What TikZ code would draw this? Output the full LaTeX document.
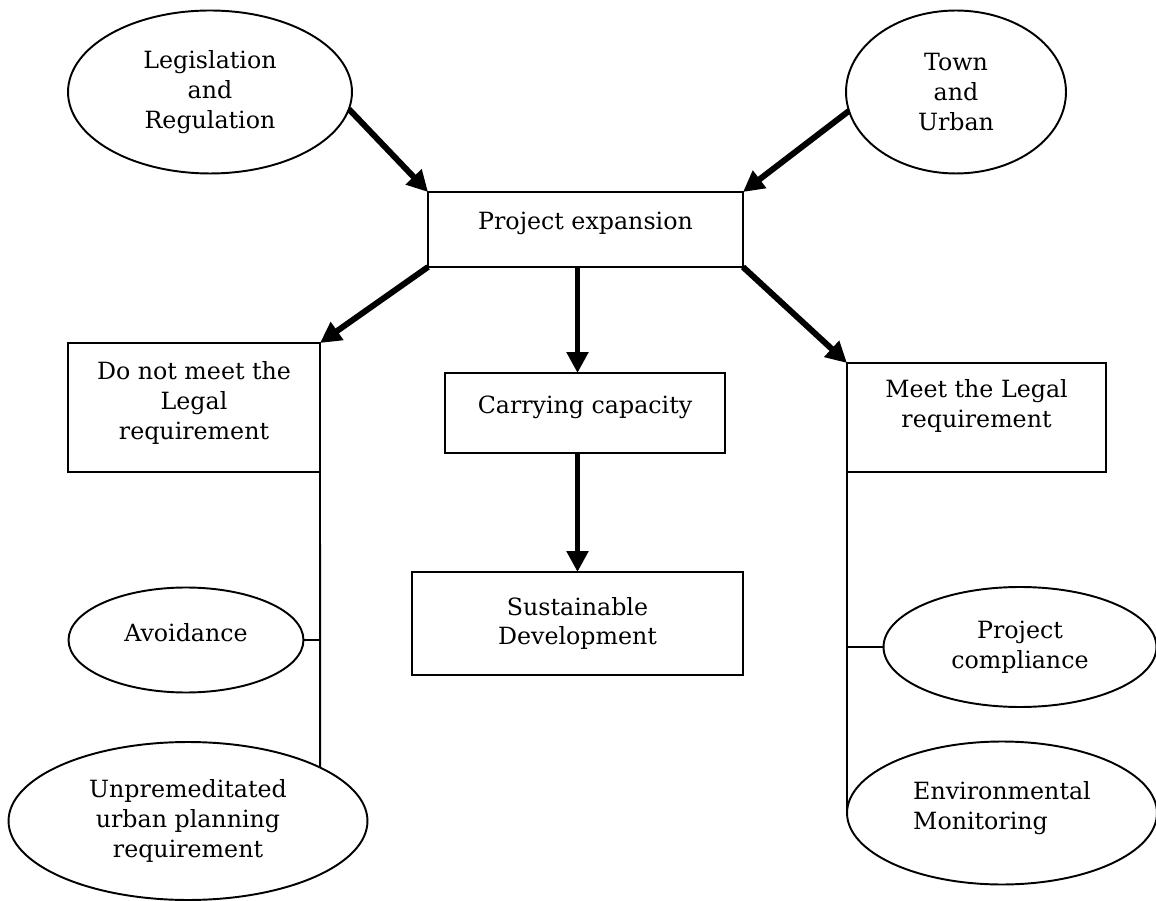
\documentclass[tikz,border=0pt]{standalone}
\usepackage{fontspec}
\setmainfont{DejaVu Serif}
\usepackage{tikz}
\usetikzlibrary{shapes.geometric,arrows.meta,calc,positioning}
\newcommand{\arrowwidth}{3.4pt}
\newcommand{\framewidth}{1.1pt}
\newcommand{\labelfont}{\fontsize{13.5}{17}\selectfont}

\begin{document}
\begin{tikzpicture}[x=0.02cm,y=-0.02cm]

%% box, ellipse and arrow styles
\tikzstyle{block}=[draw,rectangle,line width=\framewidth,outer sep=0pt,inner sep=2pt,align=center,font=\labelfont]
\tikzstyle{bubble}=[draw,ellipse,line width=\framewidth,outer sep=0pt,inner sep=0pt,align=center,font=\labelfont]
\tikzstyle{bigarrow}=[line width=\arrowwidth,-{Triangle[length=0.42cm,width=0.42cm]}]
\tikzstyle{branch}=[line width=\framewidth]

\useasboundingbox (0,0) rectangle (1156,901);

%% two inputs on top
\node (legis) [bubble, minimum width=5.68cm, minimum height=3.26cm] at (210,92) {Legislation\\and\\Regulation};
\node (town) [bubble, minimum width=4.4cm, minimum height=3.26cm] at (956,92) {Town\\and\\Urban};

%% centre column (text depth lifts the text a little, as drawn)
\node (expansion) [block, minimum width=6.3cm, minimum height=1.5cm, text depth=0.35cm] at (585.5,229.5) {Project expansion};
\node (carrying) [block, minimum width=5.6cm, minimum height=1.6cm, text depth=0.35cm] at (585,413) {Carrying capacity};
\node (sustain) [block, minimum width=6.62cm, minimum height=2.06cm] at (577.5,623.5) {Sustainable\\Development};

%% left branch
\node (notmeet) [block, minimum width=5.04cm, minimum height=2.58cm, text depth=0.27cm] at (194,407.5) {Do not meet the\\Legal\\requirement};
\node (avoid) [bubble, minimum width=4.7cm, minimum height=2.1cm, text depth=0.32cm] at (186,640) {Avoidance};
\node (unprem) [bubble, minimum width=7.18cm, minimum height=3.16cm] at (188,821) {Unpremeditated\\urban planning\\requirement};

%% right branch
\node (meet) [block, minimum width=5.18cm, minimum height=2.18cm, text depth=0.55cm] at (976.5,417.5) {Meet the Legal\\requirement};
\node (comply) [bubble, minimum width=5.46cm, minimum height=2.4cm] at (1020,647) {Project\\compliance};
\node (monitor) [bubble, minimum width=6.2cm, minimum height=2.86cm, align=left, text depth=0.31cm] at (1002,813) {Environmental\\Monitoring};

%% thick arrows
\draw[bigarrow] (legis.-7) -- (expansion.north west);
\draw[bigarrow] (town.190) -- (expansion.north east);
\draw[bigarrow] (expansion.south west) -- (notmeet.north east);
\draw[bigarrow] (expansion.south east) -- (meet.north west);
\draw[bigarrow] (expansion.south -| sustain.north) -- (carrying.north -| sustain.north);
\draw[bigarrow] (carrying.south -| sustain.north) -- (sustain.north);

%% thin branch lines
\draw[branch] (notmeet.south east) -- (unprem.22);
\draw[branch] (avoid.east) -- (avoid.east -| notmeet.south east);
\draw[branch] (meet.south west) -- (meet.south west |- monitor.west);
\draw[branch] (comply.west) -- (comply.west -| meet.south west);

\end{tikzpicture}
\end{document}
